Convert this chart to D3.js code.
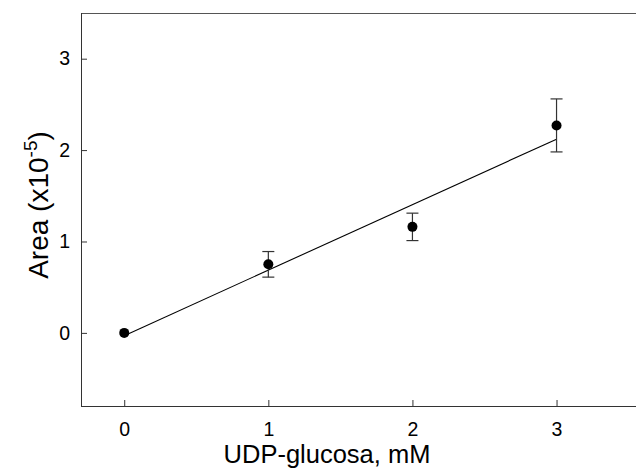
<!DOCTYPE html>
<html>
<head>
<meta charset="utf-8">
<script src="https://cdn.jsdelivr.net/npm/d3@7"></script>
<style>
  html, body { margin: 0; padding: 0; background: #fff; }
  svg { display: block; }
  svg text { font-family: "Liberation Sans", Arial, sans-serif; }
</style>
</head>
<body>
<svg id="chart" width="636" height="475"></svg>
<script>
// ---- data ----
const concentrations = [0, 1, 2, 3];          // UDP-glucosa, mM
const areaMeans      = [0, 0.75, 1.16, 2.27]; // Area (x10^-5)
const areaErrors     = [0, 0.14, 0.15, 0.29]; // error bar half-length
const fitLineX       = [0, 3];
const fitLineY       = [-0.03, 2.12];
const xTicks         = [0, 1, 2, 3];
const yTicks         = [0, 1, 2, 3];
const xTitle         = "UDP-glucosa, mM";

(function () {
// ---- layout ----
const W = 636, H = 475;
const mLeft = 81, mTop = 13, mBottom = 406, mRight = 643;
const svg = d3.select("#chart");
const FF = '"Liberation Sans", Arial, sans-serif';

const x = d3.scaleLinear().domain([-0.3, 3.6]).range([mLeft, mRight]);
const y = d3.scaleLinear().domain([-0.8, 3.5]).range([mBottom, mTop]);

const axisColor = "#333";

// frame: top border
svg.append("line")
  .attr("x1", mLeft).attr("x2", W).attr("y1", mTop + 0.5).attr("y2", mTop + 0.5)
  .attr("stroke", "#555").attr("stroke-width", 1.2);

// x axis (ticks inward)
const xAxis = svg.append("g")
  .attr("transform", `translate(0,${mBottom})`)
  .call(d3.axisBottom(x).tickValues(xTicks).tickSize(-6).tickFormat(d3.format("d")));
xAxis.attr("font-family", FF).attr("font-size", 19.5);
xAxis.select(".domain").attr("stroke", axisColor).attr("d", `M${mLeft},0.5H${W}`);
xAxis.selectAll(".tick line").attr("stroke", axisColor);
xAxis.selectAll(".tick text")
  .attr("fill", "#000")
  .attr("y", 0).attr("dy", 0)
  .attr("transform", "translate(0,30)");

// y axis (ticks inward)
const yAxis = svg.append("g")
  .attr("transform", `translate(${mLeft},0)`)
  .call(d3.axisLeft(y).tickValues(yTicks).tickSize(-6).tickPadding(11).tickFormat(d3.format("d")));
yAxis.attr("font-family", FF).attr("font-size", 19.5);
yAxis.select(".domain").attr("stroke", axisColor).attr("d", `M0.5,${mTop}V${mBottom}`);
yAxis.selectAll(".tick line").attr("stroke", axisColor);
yAxis.selectAll(".tick text").attr("fill", "#000");

// regression line
svg.append("path")
  .datum(fitLineX.map((d, i) => [d, fitLineY[i]]))
  .attr("fill", "none").attr("stroke", "#000").attr("stroke-width", 1.1)
  .attr("d", d3.line().x(d => x(d[0])).y(d => y(d[1])));

// error bars
const pts = concentrations.map((c, i) => ({ c, m: areaMeans[i], e: areaErrors[i] }));
const eb = svg.append("g").attr("stroke", "#333").attr("stroke-width", 1.2);
pts.filter(d => d.e > 0).forEach(d => {
  const cx = x(d.c);
  eb.append("line").attr("x1", cx).attr("x2", cx).attr("y1", y(d.m + d.e)).attr("y2", y(d.m - d.e));
  eb.append("line").attr("x1", cx - 6).attr("x2", cx + 6).attr("y1", y(d.m + d.e)).attr("y2", y(d.m + d.e));
  eb.append("line").attr("x1", cx - 6).attr("x2", cx + 6).attr("y1", y(d.m - d.e)).attr("y2", y(d.m - d.e));
});

// points
svg.append("g").selectAll("circle").data(pts).join("circle")
  .attr("cx", d => x(d.c)).attr("cy", d => y(d.m)).attr("r", 5).attr("fill", "#000");

// x title
svg.append("text")
  .attr("x", 327).attr("y", 463).attr("text-anchor", "middle")
  .attr("font-size", 25.5).attr("fill", "#000").text(xTitle);

// y title with superscript
const yt = svg.append("text")
  .attr("transform", "translate(48,205) rotate(-90)")
  .attr("text-anchor", "middle").attr("font-size", 28).attr("fill", "#000");
yt.append("tspan").text("Area (x10");
yt.append("tspan").attr("font-size", 19).attr("dy", -11).text("-5");
yt.append("tspan").attr("dy", 11).text(")");
})();
</script>
</body>
</html>
